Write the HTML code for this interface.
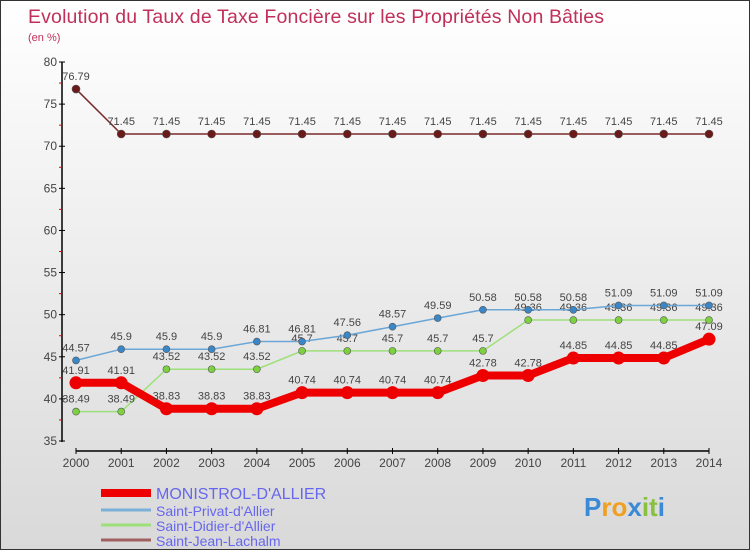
<!DOCTYPE html>
<html><head><meta charset="utf-8"><style>
body{margin:0}
#c{width:750px;height:550px;position:relative;overflow:hidden;background:linear-gradient(#ffffff,#d9d9d9);border:1px solid #333;box-sizing:border-box;font-family:"Liberation Sans",sans-serif}
</style></head><body>
<div id="c">
<svg id="s" width="750" height="550"></svg>
</div>
<script>
const years=["2000","2001","2002","2003","2004","2005","2006","2007","2008","2009","2010","2011","2012","2013","2014"];
const monistrol=[41.91,41.91,38.83,38.83,38.83,40.74,40.74,40.74,40.74,42.78,42.78,44.85,44.85,44.85,47.09];
const privat=[44.57,45.9,45.9,45.9,46.81,46.81,47.56,48.57,49.59,50.58,50.58,50.58,51.09,51.09,51.09];
const didier=[38.49,38.49,43.52,43.52,43.52,45.7,45.7,45.7,45.7,45.7,49.36,49.36,49.36,49.36,49.36];
const jean=[76.79,71.45,71.45,71.45,71.45,71.45,71.45,71.45,71.45,71.45,71.45,71.45,71.45,71.45,71.45];
const yTicks=[35,40,45,50,55,60,65,70,75,80];
const NS="http://www.w3.org/2000/svg",s=document.getElementById('s');
const X=i=>75+i*(708-75)/14, Y=v=>440-(v-35)*(440-61)/45;
function el(t,a,txt){const e=document.createElementNS(NS,t);for(const k in a)e.setAttribute(k,a[k]);if(txt!=null)e.textContent=txt;s.appendChild(e);return e;}
let t=el('text',{x:27,y:22,'font-size':19.5,fill:'#c0305a','textLength':576},'Evolution du Taux de Taxe Foncière sur les Propriétés Non Bâties');

t=el('text',{x:27,y:40,'font-size':11,fill:'#c0305a'},'(en %)');

t=el('line',{x1:61,y1:61,x2:61,y2:441,stroke:'#000','stroke-width':1.5});

t=el('line',{x1:75,y1:450,x2:708,y2:450,stroke:'#000','stroke-width':1.5});

yTicks.forEach(v=>{const y=Y(v);
 el('line',{x1:58,y1:y,x2:64,y2:y,stroke:'#000'});
 if(v<80){el('line',{x1:58,y1:Y(v+2.5),x2:61,y2:Y(v+2.5),stroke:'#e00'});}
 const l=el('text',{x:56,y:y+4,'font-size':12,fill:'#444','text-anchor':'end'},v);
 });
years.forEach((yr,i)=>{el('line',{x1:X(i),y1:447,x2:X(i),y2:453,stroke:'#000'});
 const l=el('text',{x:X(i),y:466,'font-size':12,fill:'#444','text-anchor':'middle'},yr);
 });
function series(d,color,w,r,name,fill){
 const p=el('polyline',{points:d.map((v,i)=>X(i)+','+Y(v)).join(' '),fill:'none',stroke:color,'stroke-width':w});
 
 d.forEach((v,i)=>{const c=el('circle',{cx:X(i),cy:Y(v),r:r,fill:fill,stroke:'#555','stroke-width':r>5?0:0.6});
  
  const l=el('text',{x:X(i),y:Y(v)-9,'font-size':11,fill:'#444','text-anchor':'middle'},String(v));
  });
}
series(jean,'#7a2a2a',1.5,4,'saint-jean-lachalm','#6b1a1a');
series(didier,'#9de07a',1.5,3.5,'saint-didier','#7dd040');
series(privat,'#6aa6d6',1.5,3.5,'saint-privat','#3a86c6');
series(monistrol,'#ee0000',8,6.5,'monistrol','#ee0000');
const leg=[['MONISTROL-D\'ALLIER','#ee0000',8,16],['Saint-Privat-d\'Allier','#7ab0d6',3,14],['Saint-Didier-d\'Allier','#9de07a',3,14],['Saint-Jean-Lachalm','#a06060',3,14]];
const ly=[493,510,525,540];
leg.forEach((g,i)=>{const l=el('line',{x1:100,y1:ly[i]-1,x2:150,y2:ly[i]-1,stroke:g[1],'stroke-width':g[2]});
 
 const tx=el('text',{x:155,y:ly[i]+5,'font-size':g[3],fill:'#6666ee'},g[0]);
 });
const lo=el('text',{x:583,y:515,'font-size':26,'font-weight':'bold',fill:'#3a8ad6'});

[['P','#3a8ad6'],['ro','#f0a020'],['x','#3a8ad6'],['it','#8ac040'],['i','#3a8ad6']].forEach(p=>{const ts=document.createElementNS(NS,'tspan');ts.setAttribute('fill',p[1]);ts.textContent=p[0];lo.appendChild(ts);});
</script>
</body></html>
